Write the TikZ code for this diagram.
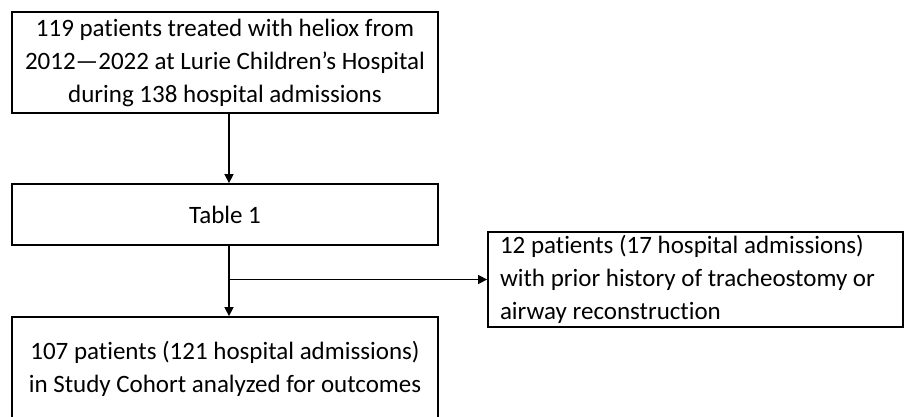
\documentclass[tikz,border=0pt]{standalone}
\usepackage{fontspec}
\setmainfont{Carlito}[Ligatures={NoCommon}]
\usetikzlibrary{arrows.meta}
\begin{document}
\begin{tikzpicture}[x=1pt,y=-1pt,
  box/.style={draw=black,line width=1.8pt,inner sep=0pt,align=center,
    font=\fontsize{25}{33}\selectfont},
  conn/.style={line width=1.5pt,-{Triangle[length=9pt,width=9pt]}}]
\clip (0,0) rectangle (905,416);
\fill[white] (0,0) rectangle (905,416);
\node[box,minimum width=426pt,minimum height=101pt] (top) at (225,62.5)
  {119 patients treated with heliox from\\2012—2022 at Lurie Children’s Hospital\\during 138 hospital admissions};
\node[box,minimum width=426pt,minimum height=61pt] (tab) at (225,214.5) {Table 1};
\node[box,minimum height=95pt,align=flush left,text width=391pt,inner xsep=12pt] (excl) at (695.5,279.5)
  {12 patients (17 hospital admissions)\\with prior history of tracheostomy or\\airway reconstruction};
\node[box,minimum width=426pt,minimum height=103pt] (bot) at (225,368.5)
  {107 patients (121 hospital admissions)\\in Study Cohort analyzed for outcomes};
\draw[conn] ([xshift=4pt]top.south) -- ([xshift=4pt]tab.north);
\draw[conn] ([xshift=4pt]tab.south) -- ([xshift=4pt]bot.north);
\coordinate (br) at ([xshift=4pt]tab.south |- excl.west);
\draw[conn] (br) -- (excl.west);
\end{tikzpicture}
\end{document}
